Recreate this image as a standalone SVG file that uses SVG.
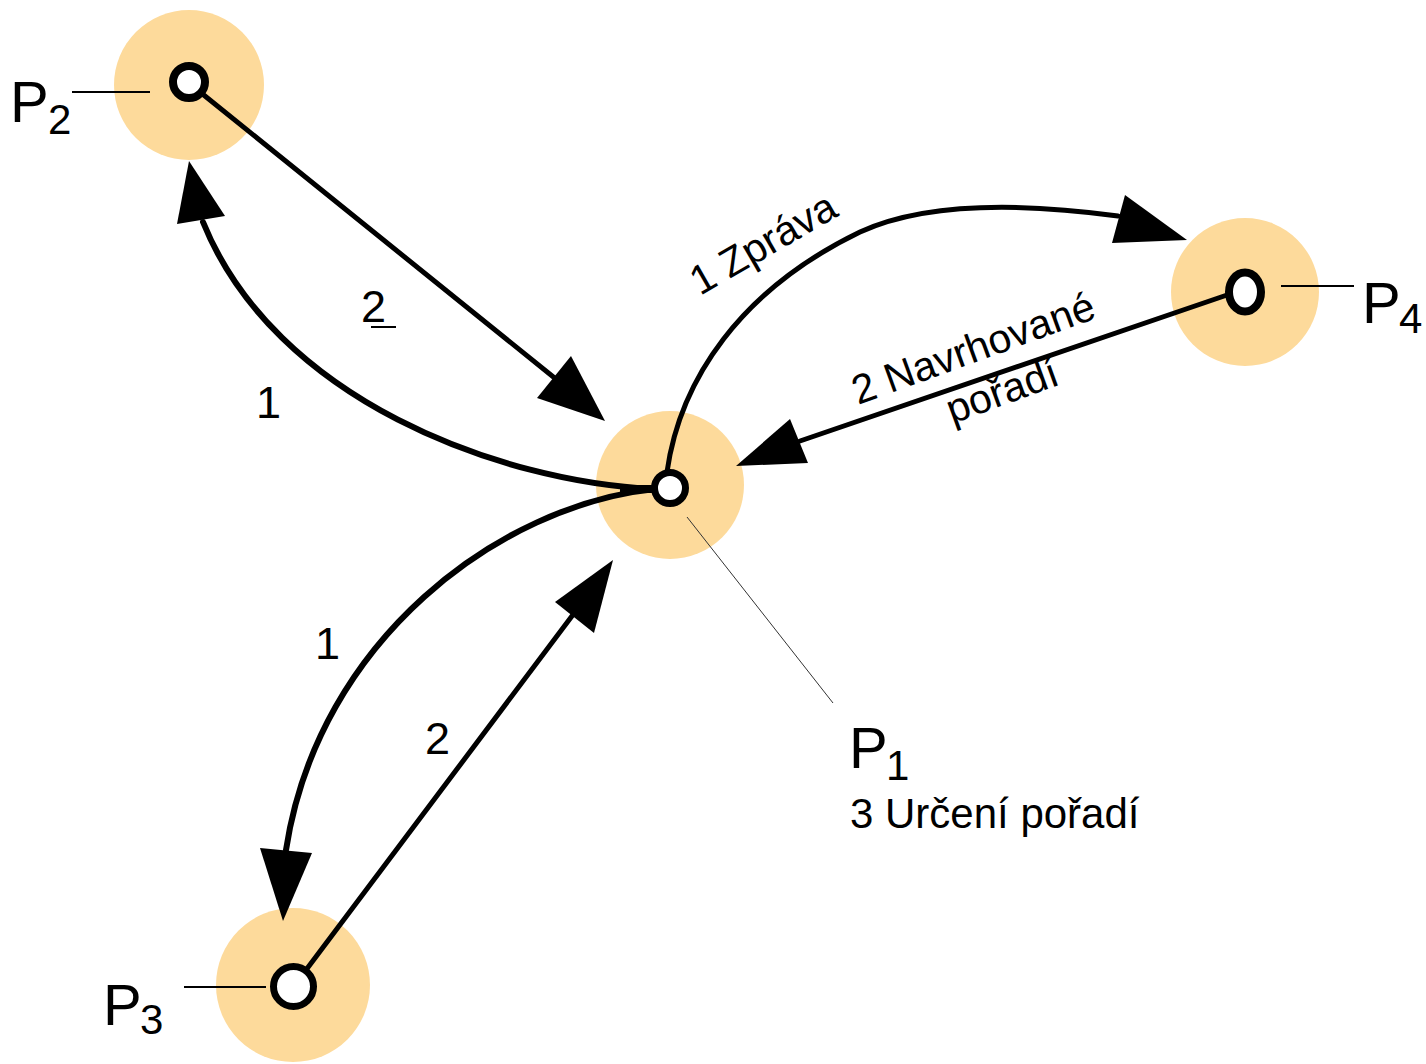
<svg xmlns="http://www.w3.org/2000/svg" width="1426" height="1064" viewBox="0 0 1426 1064">
  <style>
    .halo { fill: #FDDA9B; }
    .port { fill: #FFFFFF; stroke: #000000; stroke-width: 7; }
    .leader { stroke: #000000; stroke-width: 2; fill: none; }
    .pointer { stroke: #333333; stroke-width: 1; fill: none; }
    .edge { stroke: #000000; stroke-width: 6; fill: none; stroke-linecap: round; }
    .head { fill: #000000; }
    .name { font-family: "Liberation Sans", Arial, sans-serif; font-size: 58px; fill: #000000; }
    .sub { font-family: "Liberation Sans", Arial, sans-serif; font-size: 42px; fill: #000000; }
    .lbl { font-family: "Liberation Sans", Arial, sans-serif; font-size: 45px; fill: #000000; }
    .caption { font-family: "Liberation Sans", Arial, sans-serif; font-size: 42px; fill: #000000; }
    .msg { font-family: "Liberation Sans", Arial, sans-serif; font-size: 41px; fill: #000000; }
  </style>
  <rect width="1426" height="1064" fill="#FFFFFF"/>

  <!-- participant halos (drawn first so connectors sit on top) -->
  <g id="halos">
    <circle class="halo" cx="189" cy="85" r="75"/>
    <circle class="halo" cx="670" cy="485" r="74"/>
    <circle class="halo" cx="1245" cy="292" r="74"/>
    <circle class="halo" cx="293" cy="985" r="77"/>
  </g>

  <!-- message flows -->
  <g id="connectors">
    <!-- P2 -> P1 : 2 -->
    <line class="edge" style="stroke-width:5" x1="200" y1="92" x2="572" y2="392"/>
    <polygon class="head" points="605,421 537,398 571,356"/>
    <text class="lbl" x="361" y="322">2</text>
    <line x1="371" y1="327" x2="396" y2="327" stroke="#000" stroke-width="2"/>

    <!-- P1 -> P2 : 1 -->
    <path class="edge" d="M 655 489 C 500 482, 275 400, 203 222"/>
    <polygon class="head" points="189,161 177,224 225,216"/>
    <text class="lbl" x="256" y="418">1</text>

    <!-- P1 -> P3 : 1 -->
    <path class="edge" d="M 655 489 C 500 505, 318 640, 286 850"/>
    <polygon class="head" points="283,921 260,848 312,853"/>
    <text class="lbl" x="315" y="659">1</text>

    <!-- P3 -> P1 : 2 -->
    <line class="edge" style="stroke-width:5" x1="306" y1="970" x2="575" y2="612"/>
    <polygon class="head" points="613,560 555,602 594,633"/>
    <text class="lbl" x="425" y="754">2</text>

    <!-- P1 -> P4 : 1 Zpráva -->
    <path class="edge" style="stroke-width:5" d="M 667 472 C 680 380, 740 290, 860 232 C 930 200, 1030 204, 1118 216"/>
    <polygon class="head" points="1187,240 1112,243 1125,195"/>
    <text class="msg" transform="translate(700,296) rotate(-30)">1 Zpráva</text>

    <!-- P4 -> P1 : 2 Navrhované pořadí -->
    <line class="edge" style="stroke-width:5" x1="1230" y1="294" x2="800" y2="441"/>
    <polygon class="head" points="736,466 790,419 808,463"/>
    <g transform="translate(858,405) rotate(-20)">
      <text class="msg" x="0" y="0">2 Navrhované</text>
      <text class="msg" x="82" y="50">pořadí</text>
    </g>
  </g>

  <!-- participants -->
  <g id="node-p2">
    <circle class="port" style="stroke-width:8" cx="189" cy="82" r="16"/>
    <line class="leader" x1="72" y1="92" x2="150" y2="92"/>
    <text class="name" x="10" y="122">P</text>
    <text class="sub" x="48" y="134">2</text>
  </g>

  <g id="node-p1">
    <line x1="620" y1="489" x2="656" y2="489" stroke="#000" stroke-width="8"/>
    <circle class="port" cx="670" cy="488" r="15.5"/>
    <line class="pointer" x1="687" y1="517" x2="833" y2="703"/>
    <text class="name" x="849" y="768">P</text>
    <text class="sub" x="886" y="780">1</text>
    <text class="caption" x="850" y="828">3 Určení pořadí</text>
  </g>

  <g id="node-p4">
    <ellipse class="port" style="stroke-width:8" cx="1245" cy="292" rx="16" ry="19.5"/>
    <line class="leader" x1="1281" y1="286" x2="1354" y2="286"/>
    <text class="name" x="1362" y="323">P</text>
    <text class="sub" x="1399" y="333">4</text>
  </g>

  <g id="node-p3">
    <circle class="port" cx="293.5" cy="986.5" r="20"/>
    <line class="leader" x1="184" y1="987" x2="266" y2="987"/>
    <text class="name" x="103" y="1025">P</text>
    <text class="sub" x="140" y="1034">3</text>
  </g>
</svg>
